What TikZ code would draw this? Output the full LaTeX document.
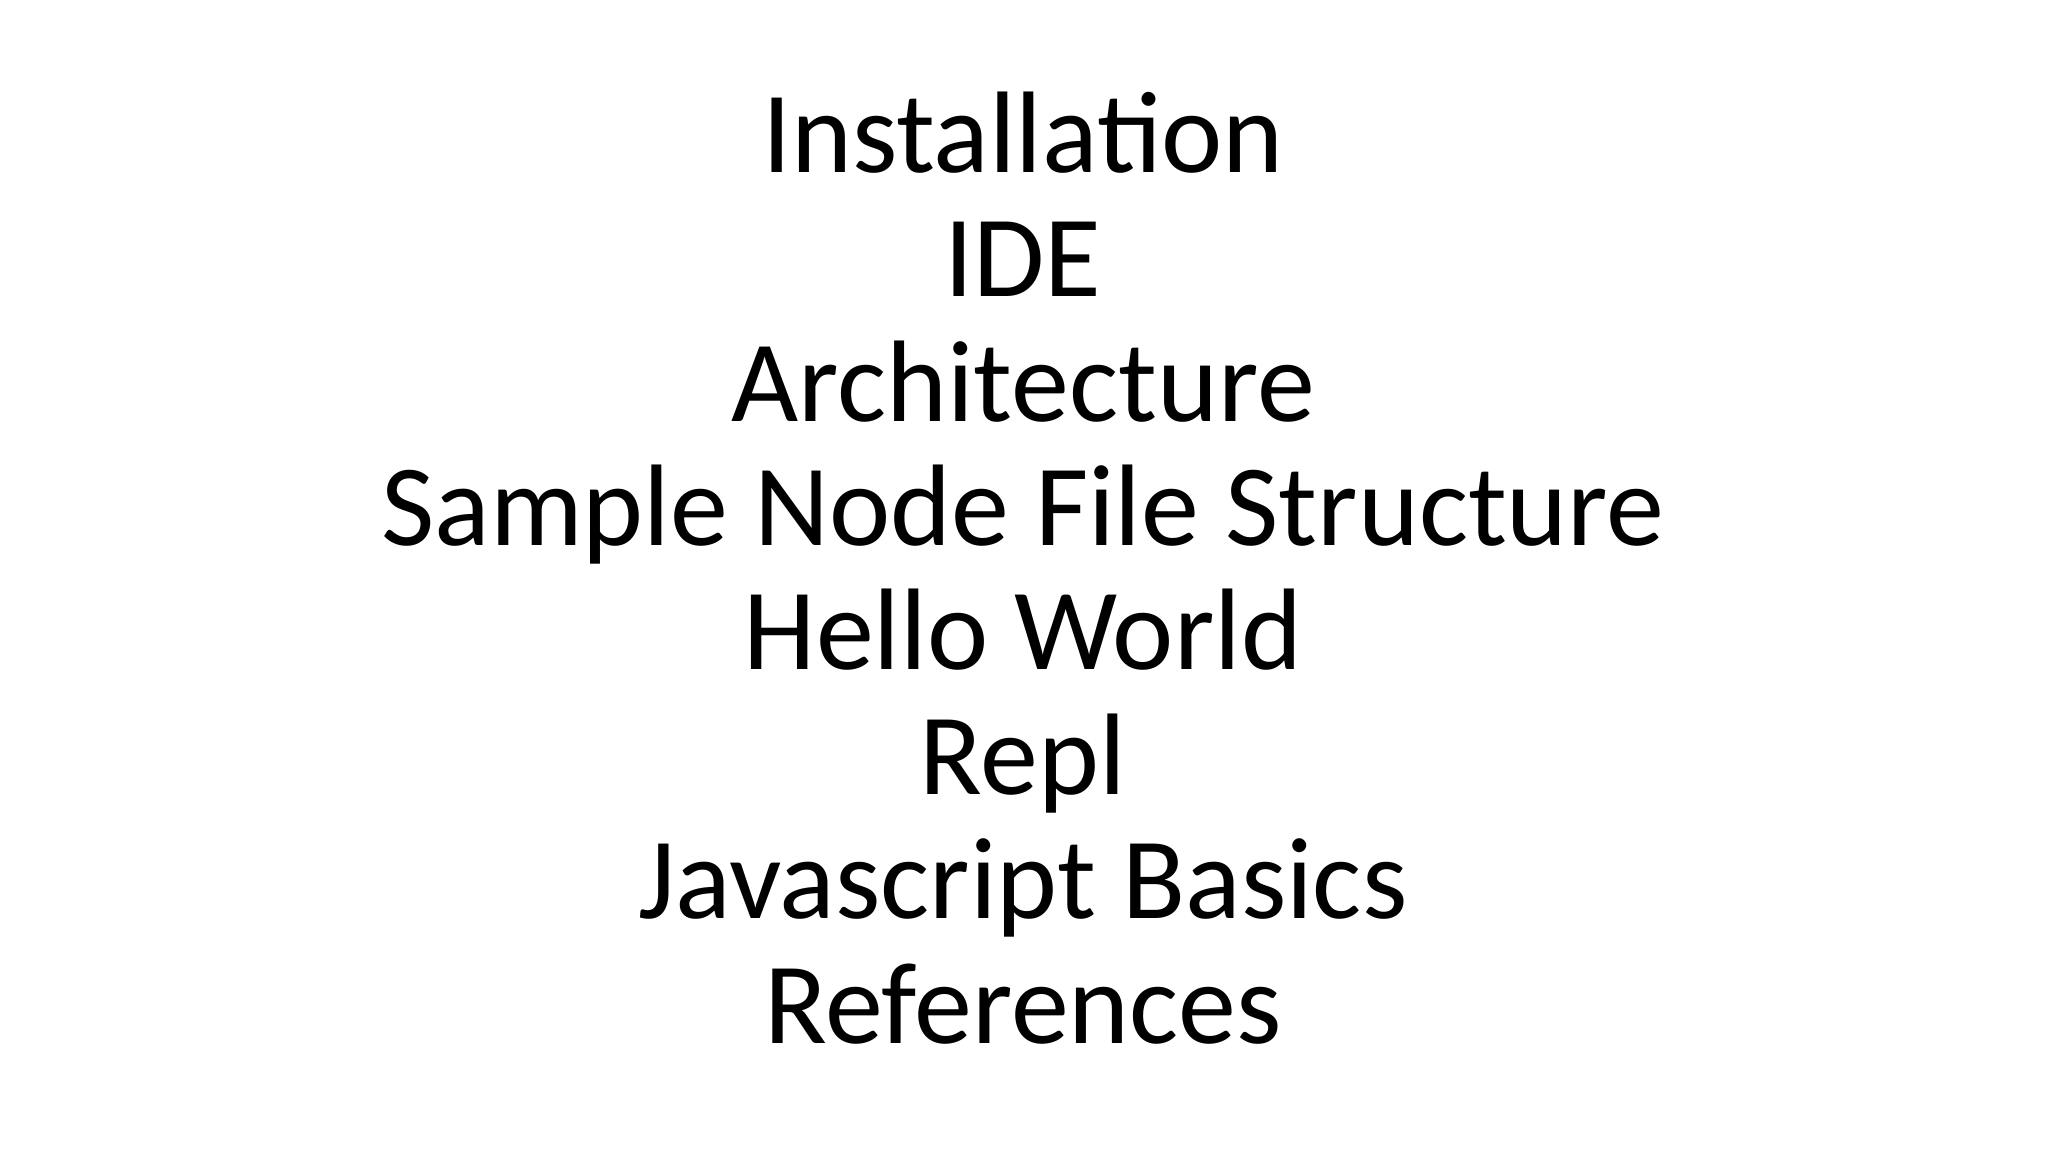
\documentclass[tikz,border=0pt]{standalone}
\usepackage{fontspec}
\setmainfont{Carlito}
\begin{document}
\begin{tikzpicture}[x=1pt,y=1pt,
  item/.style={anchor=base,inner sep=0pt,font=\fontsize{116}{124}\selectfont}]
\useasboundingbox[fill=white] (0,0) rectangle (2048,1152);
\foreach \t [count=\i] in {Installation,IDE,Architecture,Sample Node File Structure,Hello World,Repl,Javascript Basics,References}{
  \node[item] (l\i) at (1023,{1152-172.4-(\i-1)*124.4}) {\t};
}
\end{tikzpicture}
\end{document}
